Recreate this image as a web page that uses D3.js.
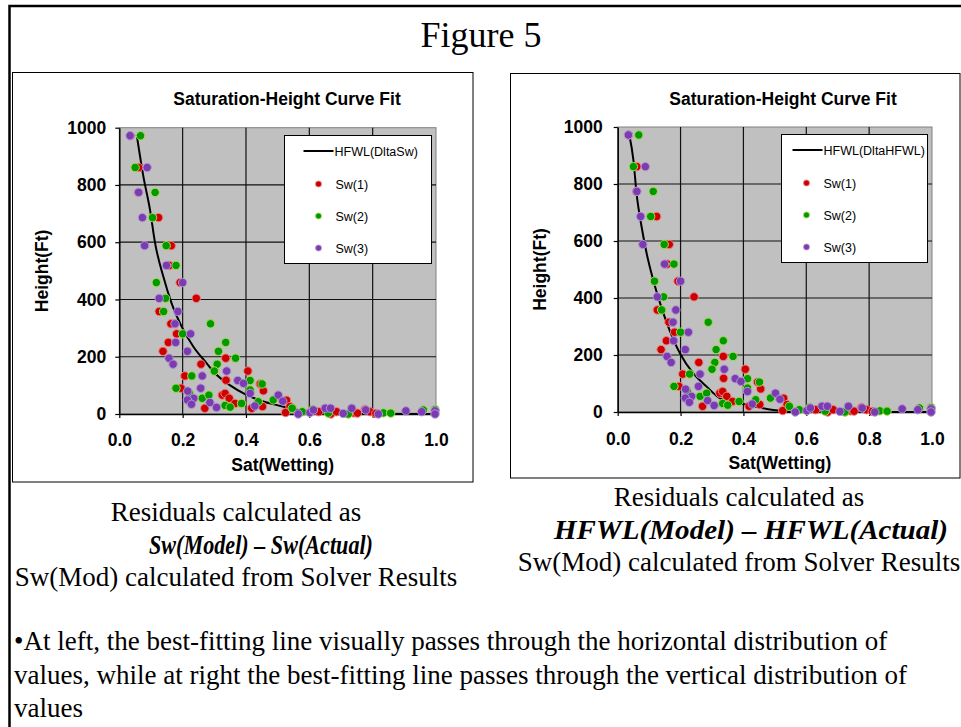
<!DOCTYPE html>
<html>
<head>
<meta charset="utf-8">
<script src="https://cdn.jsdelivr.net/npm/d3@7"></script>
<style>
    body { margin: 0; background: #fff; }
    svg { display: block; }
</style>
</head>
<body>
<div id="figure"></div>
<script>
'use strict';

// Measured points, Sw(1)
const sw1 = [0.035, 0.061, 0.060, 0.124, 0.164, 0.158, 0.192, 0.243, 0.126, 0.163, 0.181, 0.155, 0.138, 0.336, 0.258, 0.406, 0.207, 0.337, 0.445, 0.195, 0.455, 0.325, 0.334, 0.347, 0.365, 0.270, 0.418, 0.452, 0.528, 0.539, 0.525, 0.630, 0.668, 0.686, 0.740, 0.752, 0.776, 0.792, 0.810];
const h1 = [972, 861, 774, 686, 588, 519, 459, 404, 358, 315, 280, 250, 219, 195, 174, 150, 133, 118, 105, 90, 81, 66, 72, 55, 37, 20, 20, 26, 48, 26, 5, 8, 0, 8, 4, 3, 16, 8, 2];

// Sw(2)
const sw2 = [0.067, 0.050, 0.113, 0.105, 0.148, 0.179, 0.117, 0.146, 0.140, 0.288, 0.200, 0.336, 0.313, 0.367, 0.309, 0.300, 0.229, 0.413, 0.451, 0.179, 0.413, 0.221, 0.262, 0.283, 0.334, 0.350, 0.386, 0.439, 0.486, 0.546, 0.578, 0.611, 0.660, 0.723, 0.834, 0.857, 0.960, 0.997];
const h2 = [972, 861, 774, 686, 588, 519, 459, 404, 358, 315, 280, 250, 219, 195, 174, 150, 133, 117, 105, 90, 84, 72, 55, 66, 30, 24, 37, 43, 49, 20, 8, 16, 3, 0, 4, 3, 14, 16];

// Sw(3)
const sw3 = [0.034, 0.088, 0.061, 0.073, 0.080, 0.149, 0.200, 0.126, 0.185, 0.176, 0.225, 0.178, 0.215, 0.157, 0.170, 0.339, 0.262, 0.374, 0.392, 0.257, 0.216, 0.413, 0.235, 0.215, 0.228, 0.286, 0.307, 0.428, 0.502, 0.516, 0.565, 0.602, 0.613, 0.650, 0.667, 0.707, 0.734, 0.778, 0.818, 0.905, 0.955, 0.997, 0.997];
const h3 = [972, 861, 774, 686, 588, 519, 459, 404, 358, 315, 280, 250, 219, 195, 174, 150, 133, 117, 107, 90, 80, 72, 55, 49, 34, 40, 23, 28, 66, 45, 0, 5, 14, 20, 20, 2, 20, 14, 0, 11, 8, 11, 0];

// Fitted lines
const fitSwLeft = [0.055, 0.076, 0.097, 0.113, 0.139, 0.165, 0.197, 0.234, 0.276, 0.300, 0.350, 0.400, 0.460, 0.510, 0.555, 0.600, 0.700, 0.800, 1.000];
const fitHLeft = [975, 830, 713, 597, 480, 387, 305, 235, 177, 145, 100, 68, 42, 28, 16, 9, 3, 1, 0];
const fitSwRight = [0.037, 0.050, 0.060, 0.076, 0.092, 0.113, 0.135, 0.161, 0.198, 0.240, 0.283, 0.330, 0.400, 0.495, 0.550, 0.700, 1.000];
const fitHRight = [972, 884, 767, 650, 557, 463, 381, 299, 206, 136, 89, 45, 28, 7, 2, 0, 0];

const xTicks = [0, 0.2, 0.4, 0.6, 0.8, 1.0];
const yTicks = [0, 200, 400, 600, 800, 1000];
const seriesNames = ['Sw(1)', 'Sw(2)', 'Sw(3)'];

const settings = { width: 961, height: 727 };
const sans = "'Liberation Sans', Arial, sans-serif";
const serif = "'Liberation Serif', 'Times New Roman', serif";

const markerStyle = [
    { fill: '#cc0000', stroke: '#ee8080' },
    { fill: '#009900', stroke: '#a6dc4a' },
    { fill: '#7a3cb0', stroke: '#b496d6' }
];

const svg = d3.select('#figure')
    .append('svg')
    .attr('width', settings.width)
    .attr('height', settings.height);

svg.append('rect')
    .attr('width', settings.width)
    .attr('height', settings.height)
    .attr('fill', '#fff');

// slide frame, runs off the right and bottom edges
svg.append('rect')
    .attr('x', 9.5).attr('y', 6)
    .attr('width', 1000).attr('height', 800)
    .attr('fill', 'none')
    .attr('stroke', '#000')
    .attr('stroke-width', 2.5);

svg.append('text')
    .text('Figure 5')
    .attr('x', 481).attr('y', 47)
    .attr('text-anchor', 'middle')
    .attr('font-family', serif)
    .attr('font-size', 36);

const panels = [
    {
        box: [12.5, 72.5, 473, 482],
        plot: { left: 119.3, right: 436, top: 127.7, bottom: 414 },
        titleX: 287, xTitleY: 471, yTitleX: 48,
        yPad: 9, xPad: 16,
        fitSw: fitSwLeft, fitH: fitHLeft, lineName: 'HFWL(DltaSw)',
        legend: { x: 284.5, y: 135.5, w: 147, h: 128, lineX: 19, textX: 51, markX: 34 }
    },
    {
        box: [510.5, 73.5, 960, 478],
        plot: { left: 617.7, right: 932, top: 127, bottom: 412 },
        titleX: 783, xTitleY: 469, yTitleX: 546,
        yPad: 11, xPad: 17,
        fitSw: fitSwRight, fitH: fitHRight, lineName: 'HFWL(DltaHFWL)',
        legend: { x: 781.5, y: 134.5, w: 146, h: 128, lineX: 11, textX: 42, markX: 25 }
    }
];

const series = [
    { sw: sw1, h: h1 },
    { sw: sw2, h: h2 },
    { sw: sw3, h: h3 }
];

panels.forEach(p => drawPanel(p));

function drawPanel(p) {
    const g = svg.append('g');
    const [bx0, by0, bx1, by1] = p.box;

    g.append('rect')
        .attr('x', bx0).attr('y', by0)
        .attr('width', bx1 - bx0).attr('height', by1 - by0)
        .attr('fill', '#fff')
        .attr('stroke', '#000')
        .attr('stroke-width', 1);

    const x = d3.scaleLinear().domain([0, 1]).range([p.plot.left, p.plot.right]);
    const y = d3.scaleLinear().domain([0, 1000]).range([p.plot.bottom, p.plot.top]);

    // plot area
    g.append('rect')
        .attr('x', x(0)).attr('y', y(1000))
        .attr('width', x(1) - x(0)).attr('height', y(0) - y(1000))
        .attr('fill', '#c0c0c0')
        .attr('stroke', '#808080')
        .attr('stroke-width', 1);

    // gridlines
    g.append('g')
        .selectAll('line')
        .data(xTicks.slice(1, -1))
        .enter()
        .append('line')
        .attr('x1', d => x(d)).attr('x2', d => x(d))
        .attr('y1', y(0)).attr('y2', y(1000))
        .attr('stroke', '#111')
        .attr('stroke-width', 1.2);

    g.append('g')
        .selectAll('line')
        .data(yTicks.slice(1, -1))
        .enter()
        .append('line')
        .attr('x1', x(0)).attr('x2', x(1))
        .attr('y1', d => y(d)).attr('y2', d => y(d))
        .attr('stroke', '#111')
        .attr('stroke-width', 1.2);

    // axes
    const yAxis = g.append('g')
        .attr('transform', `translate(${x(0)},0)`)
        .call(d3.axisLeft(y).tickValues(yTicks).tickFormat(d3.format('d'))
            .tickSize(4).tickPadding(p.yPad).tickSizeOuter(0));

    const xAxis = g.append('g')
        .attr('transform', `translate(0,${y(0)})`)
        .call(d3.axisBottom(x).tickValues(xTicks).tickFormat(d3.format('.1f'))
            .tickSize(4).tickPadding(p.xPad).tickSizeOuter(0));

    [yAxis, xAxis].forEach(a => {
        a.select('.domain').attr('stroke', '#000').attr('stroke-width', 1.5);
        a.selectAll('.tick line').attr('stroke', '#000').attr('stroke-width', 1.2);
        a.selectAll('text')
            .attr('font-family', sans)
            .attr('font-size', 17.5)
            .attr('font-weight', 'bold')
            .attr('fill', '#000');
    });

    // titles
    g.append('text')
        .text('Saturation-Height Curve Fit')
        .attr('x', p.titleX).attr('y', 105)
        .attr('text-anchor', 'middle')
        .attr('font-family', sans)
        .attr('font-size', 17.5)
        .attr('font-weight', 'bold');

    g.append('text')
        .text('Sat(Wetting)')
        .attr('x', (x(0) + x(1)) / 2 + 5).attr('y', p.xTitleY)
        .attr('text-anchor', 'middle')
        .attr('font-family', sans)
        .attr('font-size', 17.5)
        .attr('font-weight', 'bold');

    g.append('text')
        .text('Height(Ft)')
        .attr('transform', `translate(${p.yTitleX},${(y(0) + y(1000)) / 2}) rotate(-90)`)
        .attr('text-anchor', 'middle')
        .attr('font-family', sans)
        .attr('font-size', 17.5)
        .attr('font-weight', 'bold');

    // fitted line
    const line = d3.line()
        .x(d => x(d[0]))
        .y(d => y(d[1]))
        .curve(d3.curveMonotoneX);

    g.append('path')
        .datum(d3.zip(p.fitSw, p.fitH))
        .attr('d', line)
        .attr('fill', 'none')
        .attr('stroke', '#000')
        .attr('stroke-width', 2);

    // markers
    series.forEach((s, i) => {
        g.append('g')
            .selectAll('circle')
            .data(d3.zip(s.sw, s.h))
            .enter()
            .append('circle')
            .attr('cx', d => x(d[0]))
            .attr('cy', d => y(d[1]))
            .attr('r', 4.2)
            .attr('fill', markerStyle[i].fill)
            .attr('stroke', markerStyle[i].stroke)
            .attr('stroke-width', 1);
    });

    // legend
    const L = p.legend;
    const lg = g.append('g').attr('transform', `translate(${L.x},${L.y})`);
    lg.append('rect')
        .attr('width', L.w).attr('height', L.h)
        .attr('fill', '#fff')
        .attr('stroke', '#000')
        .attr('stroke-width', 1);

    lg.append('line')
        .attr('x1', L.lineX).attr('x2', L.lineX + 30)
        .attr('y1', 15.5).attr('y2', 15.5)
        .attr('stroke', '#000')
        .attr('stroke-width', 2);

    lg.append('text')
        .text(p.lineName)
        .attr('x', L.lineX + 31).attr('y', 20)
        .attr('font-family', sans)
        .attr('font-size', 12.5);

    seriesNames.forEach((name, i) => {
        const yy = 48.5 + i * 32;
        lg.append('circle')
            .attr('cx', L.markX).attr('cy', yy)
            .attr('r', 3)
            .attr('fill', markerStyle[i].fill)
            .attr('stroke', markerStyle[i].stroke)
            .attr('stroke-width', 0.8);
        lg.append('text')
            .text(name)
            .attr('x', L.textX).attr('y', yy + 4.5)
            .attr('font-family', sans)
            .attr('font-size', 12.5);
    });
}

// captions; the bold formula line sits a little right of centre in the slide
const captions = [
    { x: 236, y: 521, boldX: 261, boldW: 224,
      lines: ['Residuals calculated as', 'Sw(Model) – Sw(Actual)', 'Sw(Mod) calculated from Solver Results'] },
    { x: 739, y: 506, boldX: 751, boldW: 394,
      lines: ['Residuals calculated as', 'HFWL(Model) – HFWL(Actual)', 'Sw(Mod) calculated from Solver Results'] }
];

captions.forEach(c => {
    c.lines.forEach((t, i) => {
        const txt = svg.append('text')
            .text(t)
            .attr('x', i === 1 ? c.boldX : c.x).attr('y', c.y + i * 32.5)
            .attr('text-anchor', 'middle')
            .attr('font-family', serif)
            .attr('font-size', 27)
            .attr('font-weight', i === 1 ? 'bold' : 'normal')
            .attr('font-style', i === 1 ? 'italic' : 'normal');
        if (i === 1) {
            txt.attr('textLength', c.boldW).attr('lengthAdjust', 'spacingAndGlyphs');
        }
    });
});

const notes = [
    '•At left, the best-fitting line visually passes through the horizontal distribution of',
    'values, while at right the best-fitting line passes through the vertical distribution of',
    'values'
];

notes.forEach((t, i) => {
    svg.append('text')
        .text(t)
        .attr('x', 14).attr('y', 650 + i * 33.5)
        .attr('font-family', serif)
        .attr('font-size', 27);
});
</script>
</body>
</html>
